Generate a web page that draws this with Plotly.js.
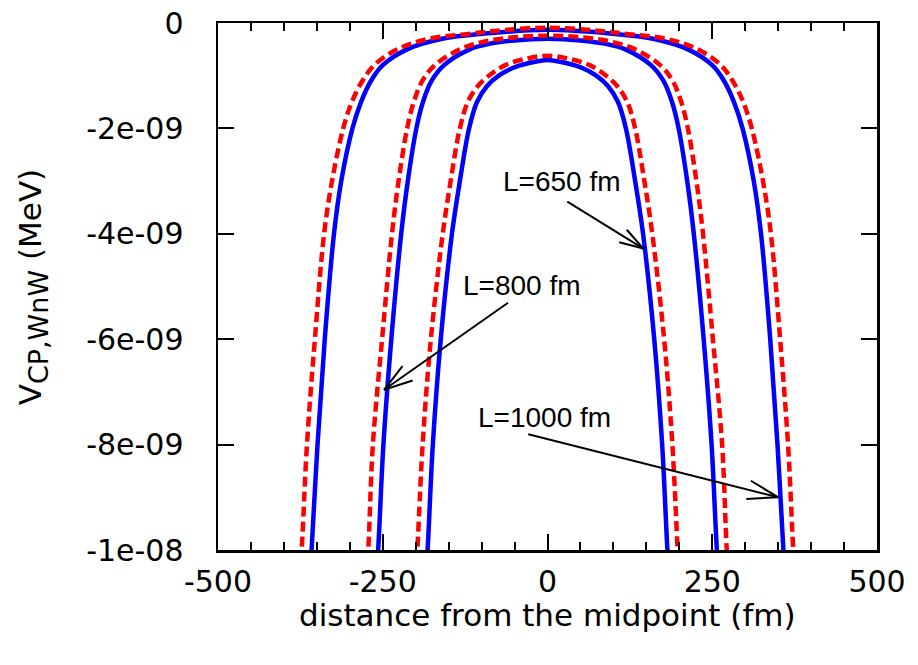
<!DOCTYPE html>
<html>
<head>
<meta charset="utf-8">
<script src="https://cdn.plot.ly/plotly-3.0.1.min.js"></script>
<style>body{margin:0;background:#fff}#chart{width:918px;height:665px}</style>
</head>
<body>
<div id="chart"></div>
<script>
// distance from the midpoint (fm) and V (MeV)
var x1000Blue = [-361,-358,-349,-338,-324,-313,-296,-283,-268,-250,-213,-160,-95,0,95,160,213,250,268,283,296,313,324,338,349,358,361];
var y1000Blue = [-10.5e-9,-10.0e-9,-8.0e-9,-6.0e-9,-4.0e-9,-3.0e-9,-2.0e-9,-1.5e-9,-1.1e-9,-0.8e-9,-0.5e-9,-0.3e-9,-0.2e-9,-0.13e-9,-0.2e-9,-0.3e-9,-0.5e-9,-0.8e-9,-1.1e-9,-1.5e-9,-2.0e-9,-3.0e-9,-4.0e-9,-6.0e-9,-8.0e-9,-10.0e-9,-10.5e-9];
var x1000Red = [-376,-373,-365,-353,-339,-327,-310,-297,-281,-263,-228,-180,-115,-80,0,80,115,180,228,263,281,297,310,327,339,353,365,373,376];
var y1000Red = [-10.5e-9,-10.0e-9,-8.0e-9,-6.0e-9,-4.0e-9,-3.0e-9,-2.0e-9,-1.5e-9,-1.1e-9,-0.8e-9,-0.5e-9,-0.3e-9,-0.2e-9,-0.15e-9,-0.09e-9,-0.15e-9,-0.2e-9,-0.3e-9,-0.5e-9,-0.8e-9,-1.1e-9,-1.5e-9,-2.0e-9,-3.0e-9,-4.0e-9,-6.0e-9,-8.0e-9,-10.0e-9,-10.5e-9];

var x800Blue = [-260,-257,-249,-237,-222,-212,-199,-189,-176,-157,-118,-90,-50,0,50,90,118,157,176,189,199,212,222,237,249,257,260];
var y800Blue = [-10.5e-9,-10.0e-9,-8.0e-9,-6.0e-9,-4.0e-9,-3.0e-9,-2.0e-9,-1.5e-9,-1.1e-9,-0.8e-9,-0.5e-9,-0.4e-9,-0.33e-9,-0.30e-9,-0.33e-9,-0.4e-9,-0.5e-9,-0.8e-9,-1.1e-9,-1.5e-9,-2.0e-9,-3.0e-9,-4.0e-9,-6.0e-9,-8.0e-9,-10.0e-9,-10.5e-9];
var x800Red = [-275,-272,-265,-251,-236,-226,-213,-203,-190,-171,-133,-95,-50,0,50,95,133,171,190,203,213,226,236,251,265,272,275];
var y800Red = [-10.5e-9,-10.0e-9,-8.0e-9,-6.0e-9,-4.0e-9,-3.0e-9,-2.0e-9,-1.5e-9,-1.1e-9,-0.8e-9,-0.5e-9,-0.35e-9,-0.27e-9,-0.24e-9,-0.27e-9,-0.35e-9,-0.5e-9,-0.8e-9,-1.1e-9,-1.5e-9,-2.0e-9,-3.0e-9,-4.0e-9,-6.0e-9,-8.0e-9,-10.0e-9,-10.5e-9];

var x650Blue = [-185,-182,-174,-162,-145,-133,-119,-107,-92,-74,-52,-28,0,28,52,74,92,107,119,133,145,162,174,182,185];
var y650Blue = [-10.5e-9,-10.0e-9,-8.0e-9,-6.0e-9,-4.0e-9,-3.0e-9,-2.0e-9,-1.5e-9,-1.2e-9,-1.0e-9,-0.85e-9,-0.76e-9,-0.70e-9,-0.76e-9,-0.85e-9,-1.0e-9,-1.2e-9,-1.5e-9,-2.0e-9,-3.0e-9,-4.0e-9,-6.0e-9,-8.0e-9,-10.0e-9,-10.5e-9];
var x650Red = [-200,-197.5,-189.5,-177,-159,-147,-133,-121,-106,-89,-64,-33,0,33,64,89,106,121,133,147,159,177,189.5,197.5,200];
var y650Red = [-10.5e-9,-10.0e-9,-8.0e-9,-6.0e-9,-4.0e-9,-3.0e-9,-2.0e-9,-1.5e-9,-1.2e-9,-1.0e-9,-0.8e-9,-0.68e-9,-0.62e-9,-0.68e-9,-0.8e-9,-1.0e-9,-1.2e-9,-1.5e-9,-2.0e-9,-3.0e-9,-4.0e-9,-6.0e-9,-8.0e-9,-10.0e-9,-10.5e-9];

var xTickVals = [-500,-250,0,250,500];
var xTickText = ['-500','-250','0','250','500'];
var yTickVals = [0,-2e-9,-4e-9,-6e-9,-8e-9,-1e-8];
var yTickText = ['0','-2e-09','-4e-09','-6e-09','-8e-09','-1e-08'];

// labels: text, text position, arrow tip, arrow tail offset (px), head length (px)
var labelText = ['L=650 fm','L=800 fm','L=1000 fm'];
var labelX = [22,-38,-5];
var labelY = [-3.0e-9,-4.99e-9,-7.49e-9];
var tipX = [145.4,-248,350.2];
var tipY = [-4.28e-9,-6.96e-9,-9.0e-9];
var tailDX = [-76,124,-250];
var tailDY = [-47,-87,-63];
var headLen = [25,30,32];

var FONT = 'Liberation Sans, Arial, Helvetica, sans-serif';
var WFONT = 'DejaVu Sans, Verdana, sans-serif';

function curve(x,y,color,dash){
  return {x:x,y:y,type:'scatter',mode:'lines',showlegend:false,hoverinfo:'skip',
    line:{color:color,width:4.5,dash:dash,shape:'spline',smoothing:1}};
}
var data = [
  curve(x1000Blue,y1000Blue,'#0000ff','solid'),
  curve(x1000Red,y1000Red,'#ff0000','10px,5px'),
  curve(x800Blue,y800Blue,'#0000ff','solid'),
  curve(x800Red,y800Red,'#ff0000','10px,5px'),
  curve(x650Blue,y650Blue,'#0000ff','solid'),
  curve(x650Red,y650Red,'#ff0000','10px,5px')
];

// pixel-offset line anchored at a data point (screen dy positive = downward)
function pixLine(ax, ay, dx, dy){
  return {type:'line', xref:'x', yref:'y', xsizemode:'pixel', ysizemode:'pixel',
    xanchor:ax, yanchor:ay, x0:0, y0:0, x1:dx, y1:-dy,
    line:{color:'#000', width:2}};
}

var ann = [];
var shapes = [];
for (var i=0;i<labelText.length;i++){
  ann.push({x:labelX[i],y:labelY[i],xref:'x',yref:'y',text:labelText[i],showarrow:false,
    xanchor:'center',yanchor:'middle',font:{family:FONT,size:28,color:'#000'}});
  shapes.push(pixLine(tipX[i], tipY[i], tailDX[i], tailDY[i]));
  var len = Math.sqrt(tailDX[i]*tailDX[i]+tailDY[i]*tailDY[i]);
  var ux = tailDX[i]/len, uy = tailDY[i]/len;
  [17,-17].forEach(function(deg){
    var t = deg*Math.PI/180;
    var hx = (ux*Math.cos(t)-uy*Math.sin(t))*headLen[i];
    var hy = (ux*Math.sin(t)+uy*Math.cos(t))*headLen[i];
    shapes.push(pixLine(tipX[i], tipY[i], hx, hy));
  });
}
ann.push({xref:'paper',yref:'paper',x:0.5,y:-0.123,text:'distance from the midpoint (fm)',
  showarrow:false,xanchor:'center',yanchor:'middle',font:{family:WFONT,size:31,color:'#000'}});
ann.push({xref:'paper',yref:'paper',x:-0.281,y:0.5,
  text:'V<sub><span style="font-size:27px">CP,WnW</span></sub> (MeV)',textangle:-90,
  showarrow:false,xanchor:'center',yanchor:'middle',font:{family:WFONT,size:31,color:'#000'}});

var axisCommon = {
  showgrid:false, zeroline:false, showline:true, linecolor:'#000', linewidth:2.5, mirror:'ticks',
  ticks:'inside', ticklen:16, tickwidth:2, tickcolor:'#000',
  tickfont:{family:WFONT,size:30,color:'#000'}
};
var layout = {
  width:918, height:665,
  margin:{l:218,r:41,t:23,b:115,pad:0},
  paper_bgcolor:'#fff', plot_bgcolor:'#fff',
  xaxis:Object.assign({}, axisCommon, {range:[-500,500], tickmode:'array', tickvals:xTickVals, ticktext:xTickText,
    ticklabelstandoff:3,
    minor:{ticks:'inside', ticklen:8, tickwidth:2, tickcolor:'#000', dtick:50, tick0:0}}),
  yaxis:Object.assign({}, axisCommon, {range:[-1e-8,0], tickmode:'array', tickvals:yTickVals, ticktext:yTickText,
    ticklabelstandoff:26}),
  annotations:ann,
  shapes:shapes
};
Plotly.newPlot('chart', data, layout, {staticPlot:true, displayModeBar:false});
</script>
</body>
</html>
